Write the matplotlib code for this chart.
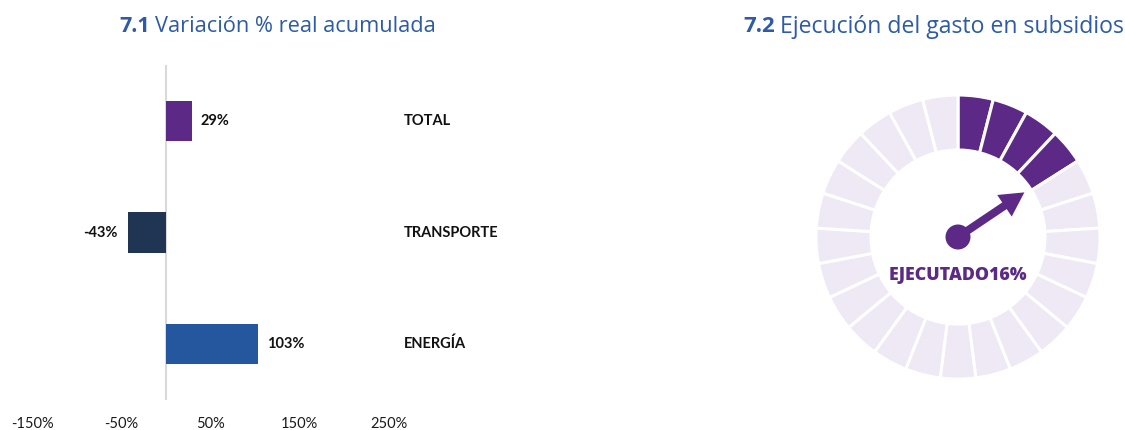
import matplotlib
matplotlib.use("Agg")
import matplotlib.pyplot as plt
import numpy as np
from matplotlib.patches import Circle, FancyArrow
from matplotlib.transforms import blended_transform_factory

# ---- data ----
categories = ["TOTAL", "TRANSPORTE", "ENERGÍA"]
values = [29, -43, 103]
bar_colors = ["#5C2A86", "#1F3553", "#24579D"]
tick_values = [-150, -50, 50, 150, 250]
tick_labels = ["-150%", "-50%", "50%", "150%", "250%"]
gauge_pct = 16
n_segments = 25

W, H = 1125, 430
fig = plt.figure(figsize=(W / 100, H / 100), dpi=100)
fig.patch.set_facecolor("white")

def fx(px):
    return px / W

def fy(py):
    return 1 - py / H

title_color = "#2D5BA6"
purple = "#5C2A86"
light = "#EEE9F4"

# ---- titles ----
fig.text(fx(150), fy(27), "7.1", ha="right", va="center", fontsize=15.5,
         fontweight="bold", color=title_color, family="Open Sans")
fig.text(fx(155), fy(27), "Variación % real acumulada", ha="left", va="center",
         fontsize=15.7, color=title_color, family="Open Sans")
fig.text(fx(775), fy(27), "7.2", ha="right", va="center", fontsize=16,
         fontweight="bold", color=title_color, family="Open Sans")
fig.text(fx(780), fy(27), "Ejecución del gasto en subsidios", ha="left", va="center",
         fontsize=16.6, color=title_color, family="Open Sans")

# ---- bar chart ----
ax = fig.add_axes([fx(32.5), fy(400), (388.5 - 32.5) / W, (400 - 65) / H])
y = np.arange(len(categories))
ax.barh(y, values, height=0.36, color=bar_colors)
ax.set_xlim(-150, 250)
ax.set_ylim(2.5, -0.5)
ax.axvline(0, color="#D9D9D9", lw=1.5, zorder=0)
for s in ax.spines.values():
    s.set_visible(False)
ax.set_yticks([])
ax.set_xticks(tick_values)
ax.set_xticklabels(tick_labels, family="Lato", fontsize=10.5, color="#1a1a1a")
ax.tick_params(axis="x", length=0, pad=12)

for yi, v in zip(y, values):
    off = 9 if v >= 0 else -10
    ax.annotate(f"{v}%", xy=(v, yi), xytext=(off * 0.72, 0), textcoords="offset points",
                ha="left" if v >= 0 else "right", va="center", fontsize=10.5,
                fontweight="bold", family="Lato", color="#111111")

tr = blended_transform_factory(ax.transAxes, ax.transData)
for yi, c in zip(y, categories):
    ax.text(1 + (404 - 388.5) / (388.5 - 32.5), yi, c, transform=tr, ha="left",
            va="center", fontsize=10.5, fontweight="bold", family="Lato",
            color="#111111", clip_on=False)

# ---- gauge ----
cx, cy = 958, 237
gax = fig.add_axes([fx(cx - 150), fy(cy + 150), 300 / W, 300 / H])

filled = round(n_segments * gauge_pct / 100)
seg_colors = [purple if i < filled else light for i in range(n_segments)]
gax.pie([1] * n_segments, colors=seg_colors, startangle=90, counterclock=False,
        radius=142, wedgeprops=dict(width=55, edgecolor="white", linewidth=2.2),
        center=(0, 0), frame=True)
gax.set_xlim(-150, 150)
gax.set_ylim(-150, 150)
gax.set_aspect("equal")
gax.axis("off")

ang = np.deg2rad(90 - 360 * gauge_pct / 100 + 1.5)
L = 80
gax.add_patch(FancyArrow(0, 0, L * np.cos(ang), L * np.sin(ang), width=8,
                         head_width=26, head_length=24, length_includes_head=True,
                         color=purple, lw=0))
gax.add_patch(Circle((0, 0), 12.5, color=purple, lw=0))
gax.text(0, -39, f"EJECUTADO{gauge_pct}%", ha="center", va="center", fontsize=12.8,
         fontweight="heavy", family="Open Sans", color=purple)

fig.savefig("out.png", dpi=100, facecolor="white")
